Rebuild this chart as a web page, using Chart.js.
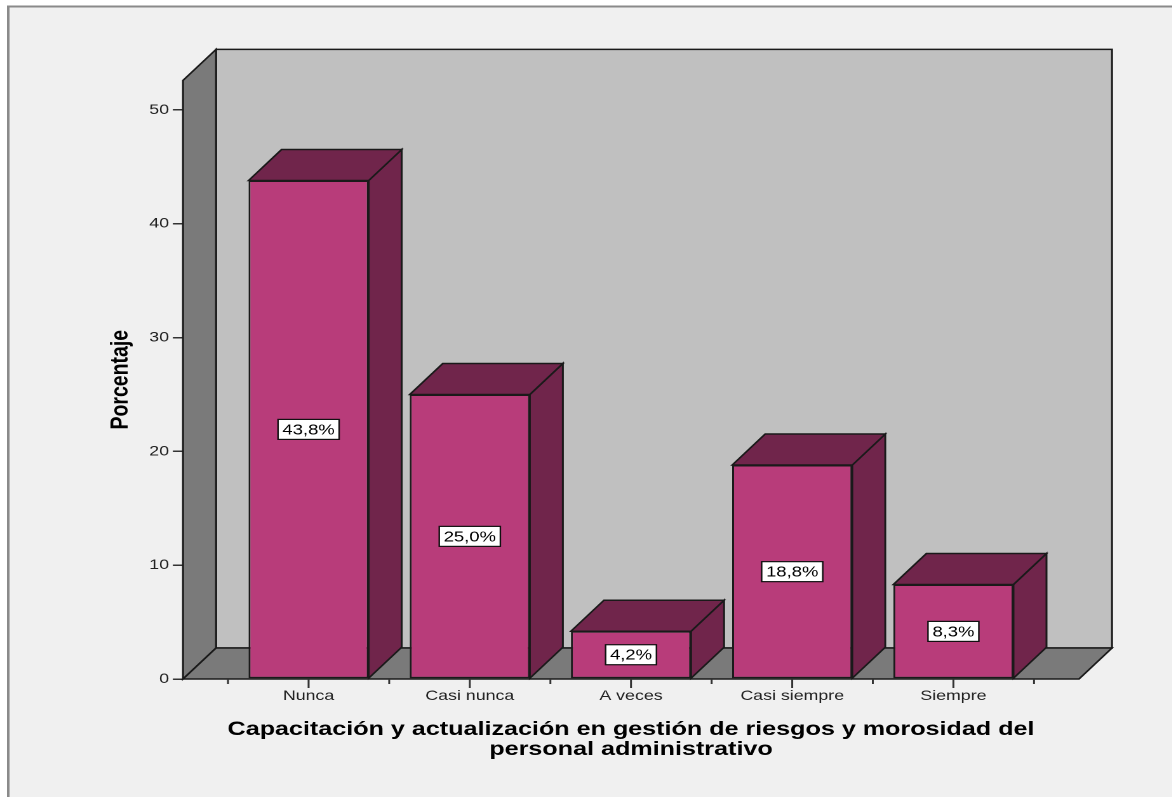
<!DOCTYPE html>
<html>
<head>
<meta charset="utf-8">
<script src="https://cdn.jsdelivr.net/npm/chart.js@4/dist/chart.umd.min.js"></script>
<style>
  html, body { margin: 0; padding: 0; background: #fff; overflow: hidden; }
  #wrap { position: absolute; left: 0; top: 0; width: 923px; height: 797px;
          transform: scaleX(1.27); transform-origin: 0 0; }
</style>
</head>
<body>
<div id="wrap"><canvas id="c" width="923" height="797"></canvas></div>
<script>
// Data
const categories = ['Nunca', 'Casi nunca', 'A veces', 'Casi siempre', 'Siempre'];
const percentages = [43.8, 25.0, 4.2, 18.8, 8.3];
const yTicks = [0, 10, 20, 30, 40, 50];
const yTitle = 'Porcentaje';
const xTitle = ['Capacitación y actualización en gestión de riesgos y morosidad del',
                'personal administrativo'];

// Look
const DEPTH_X = 26, DEPTH_Y = 31;
const FRONT = '#b83c7a', SHADE = '#70254b', EDGE = '#1a1a1a';
const WALL_DARK = '#7a7a7a', WALL_BACK = '#c0c0c0';
const FONT = "'Liberation Sans', Arial, sans-serif";

Chart.defaults.font.family = FONT;

function poly(ctx, pts, fill) {
  ctx.beginPath();
  ctx.moveTo(pts[0][0], pts[0][1]);
  for (let i = 1; i < pts.length; i++) ctx.lineTo(pts[i][0], pts[i][1]);
  ctx.closePath();
  ctx.fillStyle = fill;
  ctx.fill();
  ctx.stroke();
}

// Draws the frame, the 3D box (walls and floor), bar depth faces, value labels and x tick marks
const box3d = {
  id: 'box3d',
  beforeDraw(chart) {
    const { ctx, width, height } = chart;
    ctx.save();
    ctx.fillStyle = '#ffffff';
    ctx.fillRect(0, 0, width, height);
    ctx.fillStyle = '#f0f0f0';
    ctx.fillRect(6, 6, width, height);
    ctx.strokeStyle = '#8a8a8a';
    ctx.lineWidth = 2;
    ctx.beginPath();
    ctx.moveTo(6.5, height);
    ctx.lineTo(6.5, 6.5);
    ctx.lineTo(width, 6.5);
    ctx.stroke();
    ctx.restore();
  },
  beforeDatasetsDraw(chart) {
    const { ctx } = chart;
    const { left, right, top, bottom } = chart.chartArea;
    const dx = DEPTH_X, dy = DEPTH_Y;
    ctx.save();
    ctx.strokeStyle = EDGE;
    ctx.lineWidth = 1.5;
    ctx.lineJoin = 'miter';
    // back wall
    poly(ctx, [[left + dx, top - dy], [right + dx, top - dy], [right + dx, bottom - dy], [left + dx, bottom - dy]], WALL_BACK);
    // left wall
    poly(ctx, [[left, bottom], [left, top], [left + dx, top - dy], [left + dx, bottom - dy]], WALL_DARK);
    // floor
    poly(ctx, [[left, bottom], [left + dx, bottom - dy], [right + dx, bottom - dy], [right, bottom]], WALL_DARK);
    // bar tops and sides
    const meta = chart.getDatasetMeta(0);
    meta.data.forEach(el => {
      const { x, y, base, width } = el.getProps(['x', 'y', 'base', 'width'], true);
      const L = x - width / 2, R = x + width / 2;
      poly(ctx, [[R, y], [R + dx, y - dy], [R + dx, base - dy], [R, base]], SHADE);
      poly(ctx, [[L, y], [L + dx, y - dy], [R + dx, y - dy], [R, y]], SHADE);
    });
    ctx.restore();
  },
  afterDatasetsDraw(chart) {
    const { ctx } = chart;
    const meta = chart.getDatasetMeta(0);
    ctx.save();
    ctx.font = '14.5px ' + FONT;
    ctx.textAlign = 'center';
    ctx.textBaseline = 'middle';
    meta.data.forEach((el, i) => {
      const { x, y, base } = el.getProps(['x', 'y', 'base'], true);
      const text = percentages[i].toFixed(1).replace('.', ',') + '%';
      const cy = (y + base) / 2;
      const w = ctx.measureText(text).width + 7;
      const h = 20;
      ctx.fillStyle = '#ffffff';
      ctx.fillRect(x - w / 2, cy - h / 2, w, h);
      ctx.strokeStyle = '#111';
      ctx.lineWidth = 1.2;
      ctx.strokeRect(x - w / 2, cy - h / 2, w, h);
      ctx.fillStyle = '#000';
      ctx.fillText(text, x, cy + 1);
    });
    ctx.restore();
  },
  afterDraw(chart) {
    const { ctx } = chart;
    const xs = chart.scales.x;
    const b = chart.chartArea.bottom;
    ctx.save();
    ctx.strokeStyle = '#333';
    ctx.lineWidth = 1.5;
    categories.forEach((_, i) => {
      const p = xs.getPixelForValue(i);
      ctx.beginPath(); ctx.moveTo(p, b); ctx.lineTo(p, b + 9); ctx.stroke();
    });
    for (let i = 0; i <= categories.length; i++) {
      const p = xs.getPixelForValue(i - 0.5);
      ctx.beginPath(); ctx.moveTo(p, b); ctx.lineTo(p, b + 5); ctx.stroke();
    }
    ctx.restore();
  }
};

new Chart(document.getElementById('c'), {
  type: 'bar',
  data: {
    datasets: [{
      data: percentages.map((v, i) => ({ x: i, y: v })),
      backgroundColor: FRONT,
      borderColor: EDGE,
      borderWidth: 1.5,
      borderSkipped: false,
      categoryPercentage: 1,
      barPercentage: 0.745
    }]
  },
  options: {
    responsive: false,
    devicePixelRatio: 2,
    animation: false,
    events: [],
    layout: { padding: { top: 80.4, right: 73.4, left: 0, bottom: 0 } },
    plugins: { legend: { display: false }, tooltip: { enabled: false } },
    scales: {
      x: {
        type: 'linear',
        offset: false,
        min: -0.779,
        max: 4.779,
        afterFit(s) { s.height = 118; },
        afterBuildTicks(s) { s.ticks = categories.map((_, i) => ({ value: i })); },
        grid: { display: false, drawTicks: false, offset: false },
        border: { display: false },
        ticks: {
          padding: 8.6, autoSkip: false, maxRotation: 0, minRotation: 0,
          color: '#222', font: { size: 14 },
          callback: v => categories[v] ?? ''
        },
        title: {
          display: true, text: xTitle, color: '#000',
          font: { size: 19.8, weight: 'bold', lineHeight: 1 },
          padding: { top: 0, bottom: 37.6 }
        }
      },
      y: {
        min: 0,
        max: 52.6,
        afterFit(s) { s.width = 144.1; },
        afterBuildTicks(s) { s.ticks = yTicks.map(v => ({ value: v })); },
        grid: { drawOnChartArea: false, drawTicks: true, tickLength: 8, color: '#333', lineWidth: 1.5 },
        border: { display: false },
        ticks: { padding: 3, color: '#222', font: { size: 14 }, callback: v => String(v) },
        title: {
          display: true, text: yTitle, color: '#000',
          font: { size: 19.5, weight: 'bold', lineHeight: 1.2 },
          padding: { top: 83.2, bottom: 0 }
        }
      }
    }
  },
  plugins: [box3d]
});
</script>
</body>
</html>
